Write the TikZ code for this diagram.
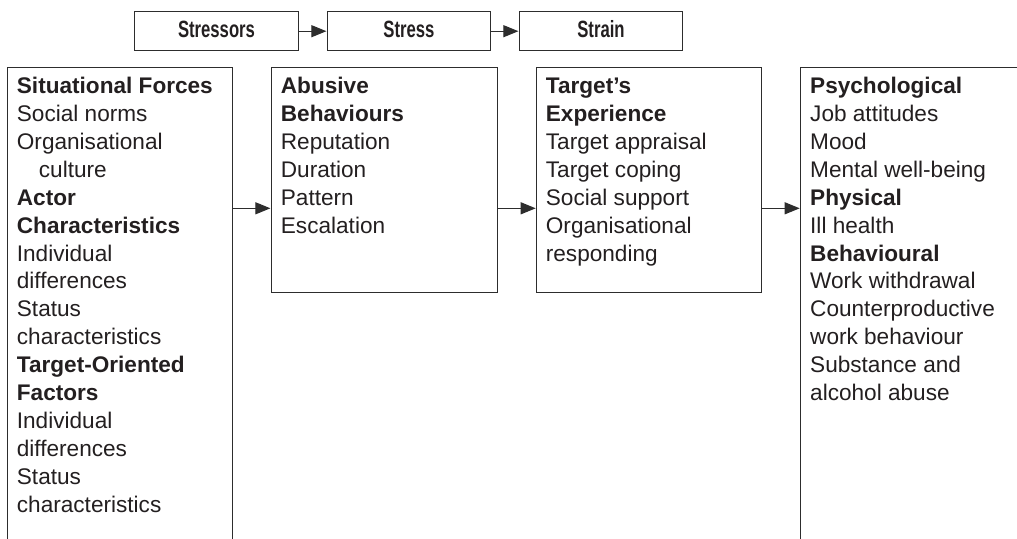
\documentclass[tikz,border=0pt]{standalone}
\usepackage{fontspec}
\setmainfont{Liberation Sans}
\newfontfamily\narrowbold[FakeStretch=0.71]{Liberation Sans Bold}
\usetikzlibrary{arrows.meta}
\definecolor{ink}{RGB}{35,31,32}
\definecolor{rule}{RGB}{45,45,45}
\newcommand{\colbody}[1]{\parbox[t]{215pt}{\raggedright\fontsize{22.6}{27.95}\selectfont #1}}
\tikzset{
  frame/.style={draw=rule, line width=1.1pt, fill=none, inner sep=0pt, anchor=north west},
  hdr/.style={draw=rule, line width=1.1pt, inner sep=0pt, minimum width=163.5pt, minimum height=39pt,
              text=ink, font=\narrowbold\fontsize{23.5}{23.5}\selectfont, text height=16.8pt, text depth=4.4pt},
  body/.style={anchor=base west, inner sep=0pt, text=ink},
  link/.style={draw=rule, line width=1.1pt, -{Triangle[length=15pt,width=12pt]}, shorten >=0.3pt}
}
\begin{document}
\begin{tikzpicture}[x=1pt,y=-1pt]
  \useasboundingbox (0,0) rectangle (1017,538);
  \clip (0,0) rectangle (1017,538);

  % stage headers
  \node[hdr] (stressors) at (216.5,31.2) {Stressors};
  \node[hdr] (stress)    at (409,31.2)   {Stress};
  \node[hdr] (strain)    at (601,31.2)   {Strain};
  \draw[link] (stressors.east) -- (stress.west);
  \draw[link] (stress.east) -- (strain.west);

  % column frames
  \node[frame, minimum width=225pt, minimum height=520pt] (forces)  at (7,67.3) {};
  \node[frame, minimum width=226pt, minimum height=225pt] (abuse)   at (270.7,67.3) {};
  \node[frame, minimum width=225pt, minimum height=225pt] (target)  at (536,67.3) {};
  \node[frame, minimum width=260pt, minimum height=520pt] (outcome) at (800,67.3) {};

  % links between columns
  \coordinate (lvl) at (0,208.3);
  \draw[link] (forces.east |- lvl) -- (abuse.west |- lvl);
  \draw[link] (abuse.east |- lvl) -- (target.west |- lvl);
  \draw[link] (target.east |- lvl) -- (outcome.west |- lvl);

  % column contents
  \node[body] (forcestext) at (16.7,93.3) {\colbody{%
    \textbf{Situational Forces}\\
    Social norms\\
    Organisational\\
    \hspace*{22pt}culture\\
    \textbf{Actor}\\
    \textbf{Characteristics}\\
    Individual\\
    differences\\
    Status\\
    characteristics\\
    \textbf{Target-Oriented}\\
    \textbf{Factors}\\
    Individual\\
    differences\\
    Status\\
    characteristics}};

  \node[body] (abusetext) at (280.7,93.3) {\colbody{%
    \textbf{Abusive}\\
    \textbf{Behaviours}\\
    Reputation\\
    Duration\\
    Pattern\\
    Escalation}};

  \node[body] (targettext) at (545.7,93.3) {\colbody{%
    \textbf{Target’s}\\
    \textbf{Experience}\\
    Target appraisal\\
    Target coping\\
    Social support\\
    Organisational\\
    responding}};

  \node[body] (outcometext) at (810,93.3) {\colbody{%
    \textbf{Psychological}\\
    Job attitudes\\
    Mood\\
    Mental well-being\\
    \textbf{Physical}\\
    Ill health\\
    \textbf{Behavioural}\\
    Work withdrawal\\
    Counterproductive\\
    work behaviour\\
    Substance and\\
    alcohol abuse}};
\end{tikzpicture}
\end{document}
